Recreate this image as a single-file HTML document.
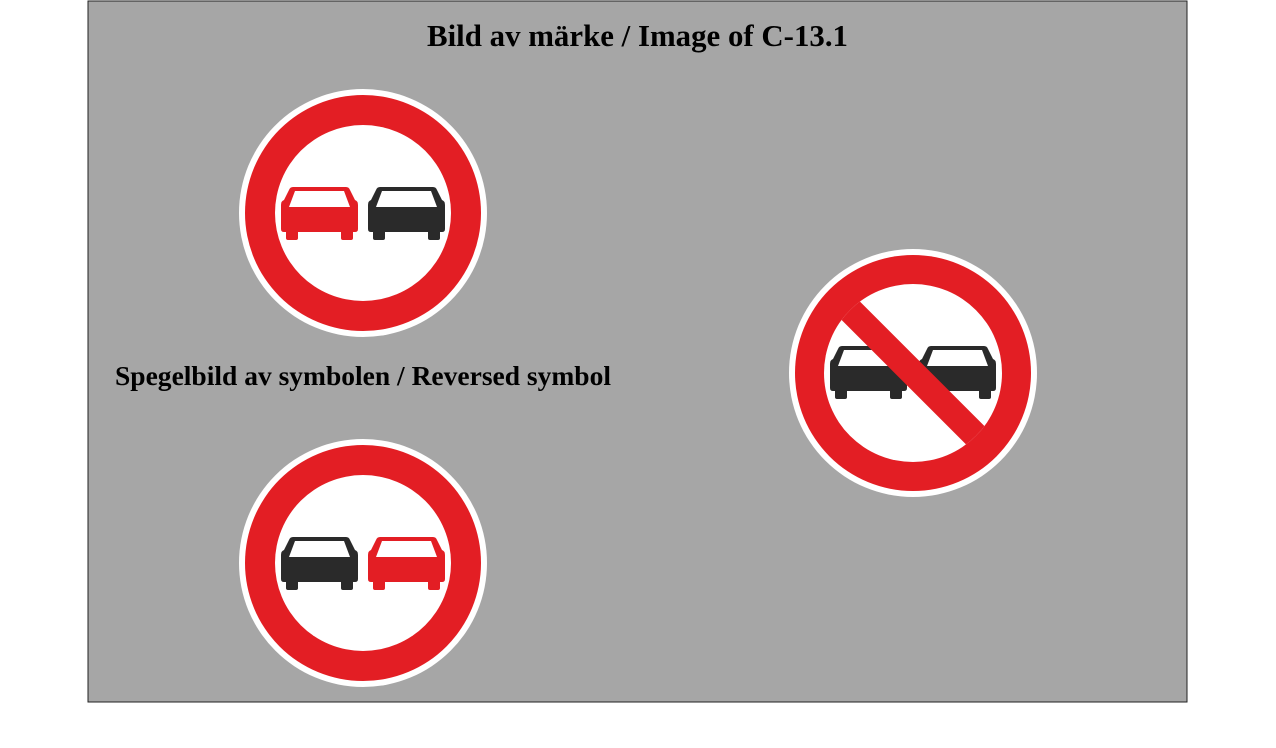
<!DOCTYPE html>
<html><head><meta charset="utf-8"><style>html,body{margin:0;padding:0;background:#fff;}svg{display:block}</style></head>
<body>
<svg width="1276" height="748" viewBox="0 0 1276 748" xmlns="http://www.w3.org/2000/svg">
<defs>
<g id="car">
<path d="M12,0 H65 Q68,0 69,3 L74,13 Q77,14 77,18 V42 Q77,45 74,45 H3 Q0,45 0,42 V18 Q0,14 3,13 L8,3 Q9,0 12,0 Z"/>
<rect x="5" y="40" width="12" height="13" rx="2"/>
<rect x="60" y="40" width="12" height="13" rx="2"/>
<path d="M14,4 H63 L69,20 H8 Z" fill="#fff"/>
</g>
<clipPath id="inner"><circle cx="913" cy="373" r="89"/></clipPath>
</defs>
<rect x="88" y="1" width="1099" height="701" fill="#a6a6a6" stroke="#222" stroke-width="1"/>
<text x="427" y="46" textLength="421" lengthAdjust="spacingAndGlyphs" font-family="Liberation Serif, serif" font-weight="bold" font-size="31" fill="#000">Bild av märke / Image of C-13.1</text>
<text x="115" y="385" textLength="496" lengthAdjust="spacingAndGlyphs" font-family="Liberation Serif, serif" font-weight="bold" font-size="27" fill="#000">Spegelbild av symbolen / Reversed symbol</text>

<!-- sign 1 -->
<circle cx="363" cy="213" r="124" fill="#fff"/>
<circle cx="363" cy="213" r="118" fill="#e31e24"/>
<circle cx="363" cy="213" r="88" fill="#fff"/>
<use href="#car" x="281" y="187" fill="#e31e24"/>
<use href="#car" x="368" y="187" fill="#2a2a2a"/>

<!-- sign 3 -->
<circle cx="363" cy="563" r="124" fill="#fff"/>
<circle cx="363" cy="563" r="118" fill="#e31e24"/>
<circle cx="363" cy="563" r="88" fill="#fff"/>
<use href="#car" x="281" y="537" fill="#2a2a2a"/>
<use href="#car" x="368" y="537" fill="#e31e24"/>

<!-- sign 2 -->
<circle cx="913" cy="373" r="124" fill="#fff"/>
<circle cx="913" cy="373" r="118" fill="#e31e24"/>
<circle cx="913" cy="373" r="89" fill="#fff"/>
<use href="#car" x="830" y="346" fill="#2a2a2a"/>
<use href="#car" x="919" y="346" fill="#2a2a2a"/>
<g clip-path="url(#inner)">
<line x1="813" y1="273" x2="1013" y2="473" stroke="#e31e24" stroke-width="26"/>
</g>
</svg>
</body></html>
